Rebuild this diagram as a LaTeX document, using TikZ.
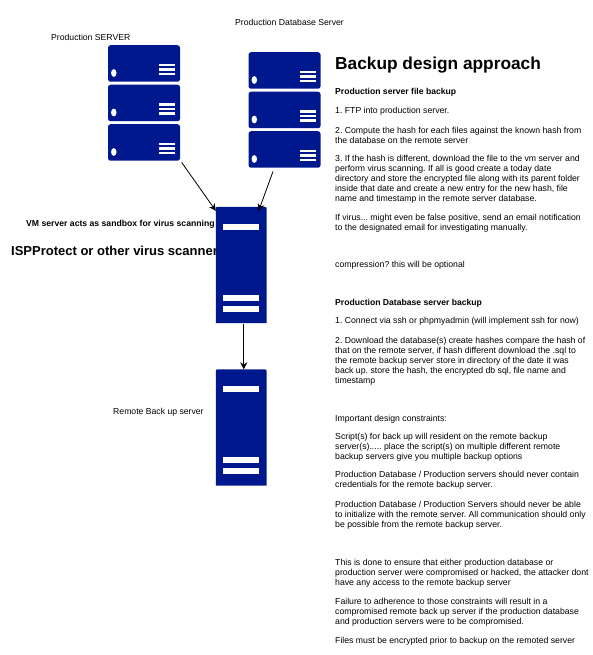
\documentclass[tikz,border=0pt]{standalone}
\usepackage{fontspec}
\setmainfont{Liberation Sans}
\frenchspacing
\usetikzlibrary{arrows.meta}
\definecolor{srv}{HTML}{00188D}
\tikzset{
  x=1pt,y=-1pt,
  body/.style={anchor=west,align=left,inner sep=0pt,font=\fontsize{8.7}{10.1}\selectfont},
  bodyb/.style={body,font=\fontsize{8.6}{10.1}\selectfont\bfseries},
  lab/.style={inner sep=0pt,anchor=west,font=\fontsize{8.65}{10.1}\selectfont},
  rackunit/.style={fill=srv,rounded corners=2.5pt,inner sep=0pt,minimum width=72pt,minimum height=36.5pt},
  towerframe/.style={inner sep=0pt,minimum width=50.5pt,minimum height=116pt},
  bar/.style={fill=white},
  arr/.style={draw=black,line width=0.8pt,-{Stealth[length=7pt,width=7pt]}}
}
\newcommand{\rackdetail}[1]{%
  \fill[bar] ([shift={(-21,0.25)}]#1.east) rectangle ([shift={(-5,2.75)}]#1.east);
  \fill[bar] ([shift={(-21,4.75)}]#1.east) rectangle ([shift={(-5,7.25)}]#1.east);
  \fill[bar] ([shift={(-21,9.25)}]#1.east) rectangle ([shift={(-5,11.75)}]#1.east);
  \fill[bar] ([shift={(6,9.5)}]#1.west) ellipse [x radius=2.7pt,y radius=3.9pt];
}
\newcommand{\towerdetail}[1]{%
  \fill[srv] (#1.south west) -- ([shift={(0,3)}]#1.north west) .. controls (#1.north west) .. ([shift={(3,0)}]#1.north west) -- ([shift={(-3,0)}]#1.north east) .. controls (#1.north east) .. ([shift={(0,3)}]#1.north east) -- (#1.south east) -- cycle;
  \fill[bar] ([shift={(7.5,17)}]#1.north west) rectangle ([shift={(43,23)}]#1.north west);
  \fill[bar] ([shift={(7.5,88)}]#1.north west) rectangle ([shift={(43,94)}]#1.north west);
  \fill[bar] ([shift={(7.5,99)}]#1.north west) rectangle ([shift={(43,105)}]#1.north west);
}
\begin{document}
\begin{tikzpicture}
\useasboundingbox (0,0) rectangle (593,655);
% labels under shapes
\node[lab] (lprod) at (51,37) {Production SERVER};
\node[lab] (ldb) at (235,22) {Production Database Server};
\node[lab,font=\fontsize{8.65}{10.1}\selectfont\bfseries] (lvm) at (26,224) {VM server acts as sandbox for virus scanning};
\node[lab,font=\fontsize{13}{15}\selectfont\bfseries] (lisp) at (11,251) {ISPProtect or other virus scanner};
\node[lab] (lrem) at (113,412) {Remote Back up server};
% production server rack
\node[rackunit] (pa) at (144,63.5) {};
\node[rackunit] (pb) at (144,103) {};
\node[rackunit] (pc) at (144,142.5) {};
\rackdetail{pa}\rackdetail{pb}\rackdetail{pc}
% database rack
\node[rackunit] (da) at (284.5,70.5) {};
\node[rackunit] (db) at (284.5,110) {};
\node[rackunit] (dc) at (284.5,149.5) {};
\rackdetail{da}\rackdetail{db}\rackdetail{dc}
% towers
\node[towerframe] (vm) at (241.25,265) {};
\node[towerframe] (rem) at (241.25,427.5) {};
\towerdetail{vm}\towerdetail{rem}
% connectors
\draw[arr] ([shift={(1.5,1.5)}]pc.south east) -- ([shift={(0,4)}]vm.north west);
\draw[arr] ([shift={(-11.5,3.5)}]dc.south) -- ([shift={(-8,4)}]vm.north east);
\draw[arr] ([shift={(2.5,1)}]vm.south) -- ([shift={(2.5,0)}]rem.north);
% text column
\node[lab,font=\fontsize{17.3}{20}\selectfont\bfseries] (title) at (335,65) {Backup design approach};
\node[bodyb] (t1) at (335,92.7) {Production server file backup};
\node[body] (t2) at (335,111.7) {1. FTP into production server.};
\node[body] (t3) at (335,135) {2. Compute the hash for each files against the known hash from\\the database on the remote server};
\node[body] (t4) at (335,179) {3. If the hash is different, download the file to the vm server and\\perform virus scanning. If all is good create a today date\\directory and store the encrypted file along with its parent folder\\inside that date and create a new entry for the new hash, file\\name and timestamp in the remote server database.};
\node[body] (t5) at (335,223) {If virus... might even be false positive, send an email notification\\to the designated email for investigating manually.};
\node[body] (t6) at (335,265.7) {compression? this will be optional};
\node[bodyb] (t7) at (335,303) {Production Database server backup};
\node[body] (t8) at (335,321.7) {1. Connect via ssh or phpmyadmin (will implement ssh for now)};
\node[body] (t9) at (335,361) {2. Download the database(s) create hashes compare the hash of\\that on the remote server, if hash different download the .sql to\\the remote backup server store in directory of the date it was\\back up. store the hash, the encrypted db sql, file name and\\timestamp};
\node[body] (t10) at (335,419) {Important design constraints:};
\node[body] (t11) at (335,447.5) {Script(s) for back up will resident on the remote backup\\server(s)..... place the script(s) on multiple different remote\\backup servers give you multiple backup options};
\node[body] (t12) at (335,480) {Production Database / Production servers should never contain\\credentials for the remote backup server.};
\node[body] (t13) at (335,515) {Production Database / Production Servers should never be able\\to initialize with the remote server. All communication should only\\be possible from the remote backup server.};
\node[body] (t14) at (335,573) {This is done to ensure that either production database or\\production server were compromised or hacked, the attacker dont\\have any access to the remote backup server};
\node[body] (t15) at (335,612) {Failure to adherence to those constraints will result in a\\compromised remote back up server if the production database\\and production servers were to be compromised.};
\node[body] (t16) at (335,641) {Files must be encrypted prior to backup on the remoted server};
\end{tikzpicture}
\end{document}
